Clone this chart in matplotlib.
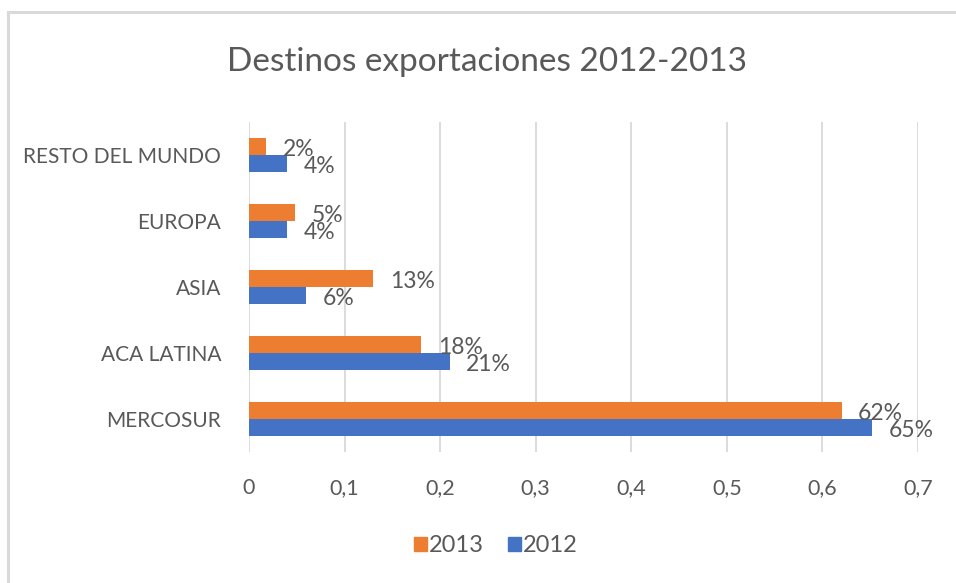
import matplotlib
matplotlib.use("Agg")
import matplotlib.pyplot as plt
from matplotlib.lines import Line2D
from matplotlib.patches import Patch
import numpy as np

categories = ["MERCOSUR", "ACA LATINA", "ASIA", "EUROPA", "RESTO DEL MUNDO"]
values_2013 = [0.62, 0.18, 0.13, 0.048, 0.018]
values_2012 = [0.652, 0.21, 0.06, 0.04, 0.04]
labels_2013 = ["62%", "18%", "13%", "5%", "2%"]
labels_2012 = ["65%", "21%", "6%", "4%", "4%"]
xticks = [0, 0.1, 0.2, 0.3, 0.4, 0.5, 0.6, 0.7]
xtick_labels = ["0", "0,1", "0,2", "0,3", "0,4", "0,5", "0,6", "0,7"]
title = "Destinos exportaciones 2012-2013"

ORANGE = "#ED7D31"
BLUE = "#4472C4"
TXT = "#595959"
GRID = "#D9D9D9"

plt.rcParams['font.family'] = ['Lato', 'DejaVu Sans']

W, H = 956, 583
fig = plt.figure(figsize=(W / 100, H / 100), dpi=100)
ax = fig.add_axes([249 / W, 1 - 452 / H, (918 - 249) / W, (452 - 122) / H])

y = np.arange(len(categories))
bh = 0.26
b12 = ax.barh(y - bh / 2, values_2012, height=bh, color=BLUE, zorder=3)
b13 = ax.barh(y + bh / 2, values_2013, height=bh, color=ORANGE, zorder=3)

for bars, labs in ((b13, labels_2013), (b12, labels_2012)):
    for bar, lab in zip(bars, labs):
        ax.annotate(lab, (bar.get_width(), bar.get_y() + bar.get_height() / 2),
                    xytext=(12, -2), textcoords="offset points",
                    ha="left", va="center", fontsize=16.5, color=TXT, zorder=4)

ax.set_xlim(0, 0.7)
ax.set_ylim(-0.5, len(categories) - 0.5)
ax.set_xticks(xticks)
ax.set_xticklabels(xtick_labels)
ax.set_yticks(y)
ax.set_yticklabels(categories)
ax.tick_params(axis="both", length=0, colors=TXT)
ax.tick_params(axis="x", pad=18.5, labelsize=15.5)
ax.tick_params(axis="y", pad=20, labelsize=15)
ax.grid(axis="x", color=GRID, linewidth=1.3, zorder=0)
for s in ax.spines.values():
    s.set_visible(False)

fig.text(487 / W, 1 - 62 / H, title, ha="center", va="center", fontsize=24, color=TXT)

handles = [Patch(color=ORANGE, label="2013"), Patch(color=BLUE, label="2012")]
fig.legend(handles=handles, loc="center", bbox_to_anchor=(496 / W, 1 - 546 / H), ncol=2,
           frameon=False, fontsize=17, handlelength=0.55, handleheight=0.55,
           handletextpad=0.1, columnspacing=1.0, labelcolor=TXT)

fig.add_artist(Line2D([8 / W, 1], [1 - 12 / H, 1 - 12 / H], color=GRID, linewidth=2.2,
                      transform=fig.transFigure))
fig.add_artist(Line2D([8 / W, 8 / W], [0, 1 - 12 / H], color=GRID, linewidth=2.2,
                      transform=fig.transFigure))

fig.savefig("out.png", dpi=100, facecolor="white")
